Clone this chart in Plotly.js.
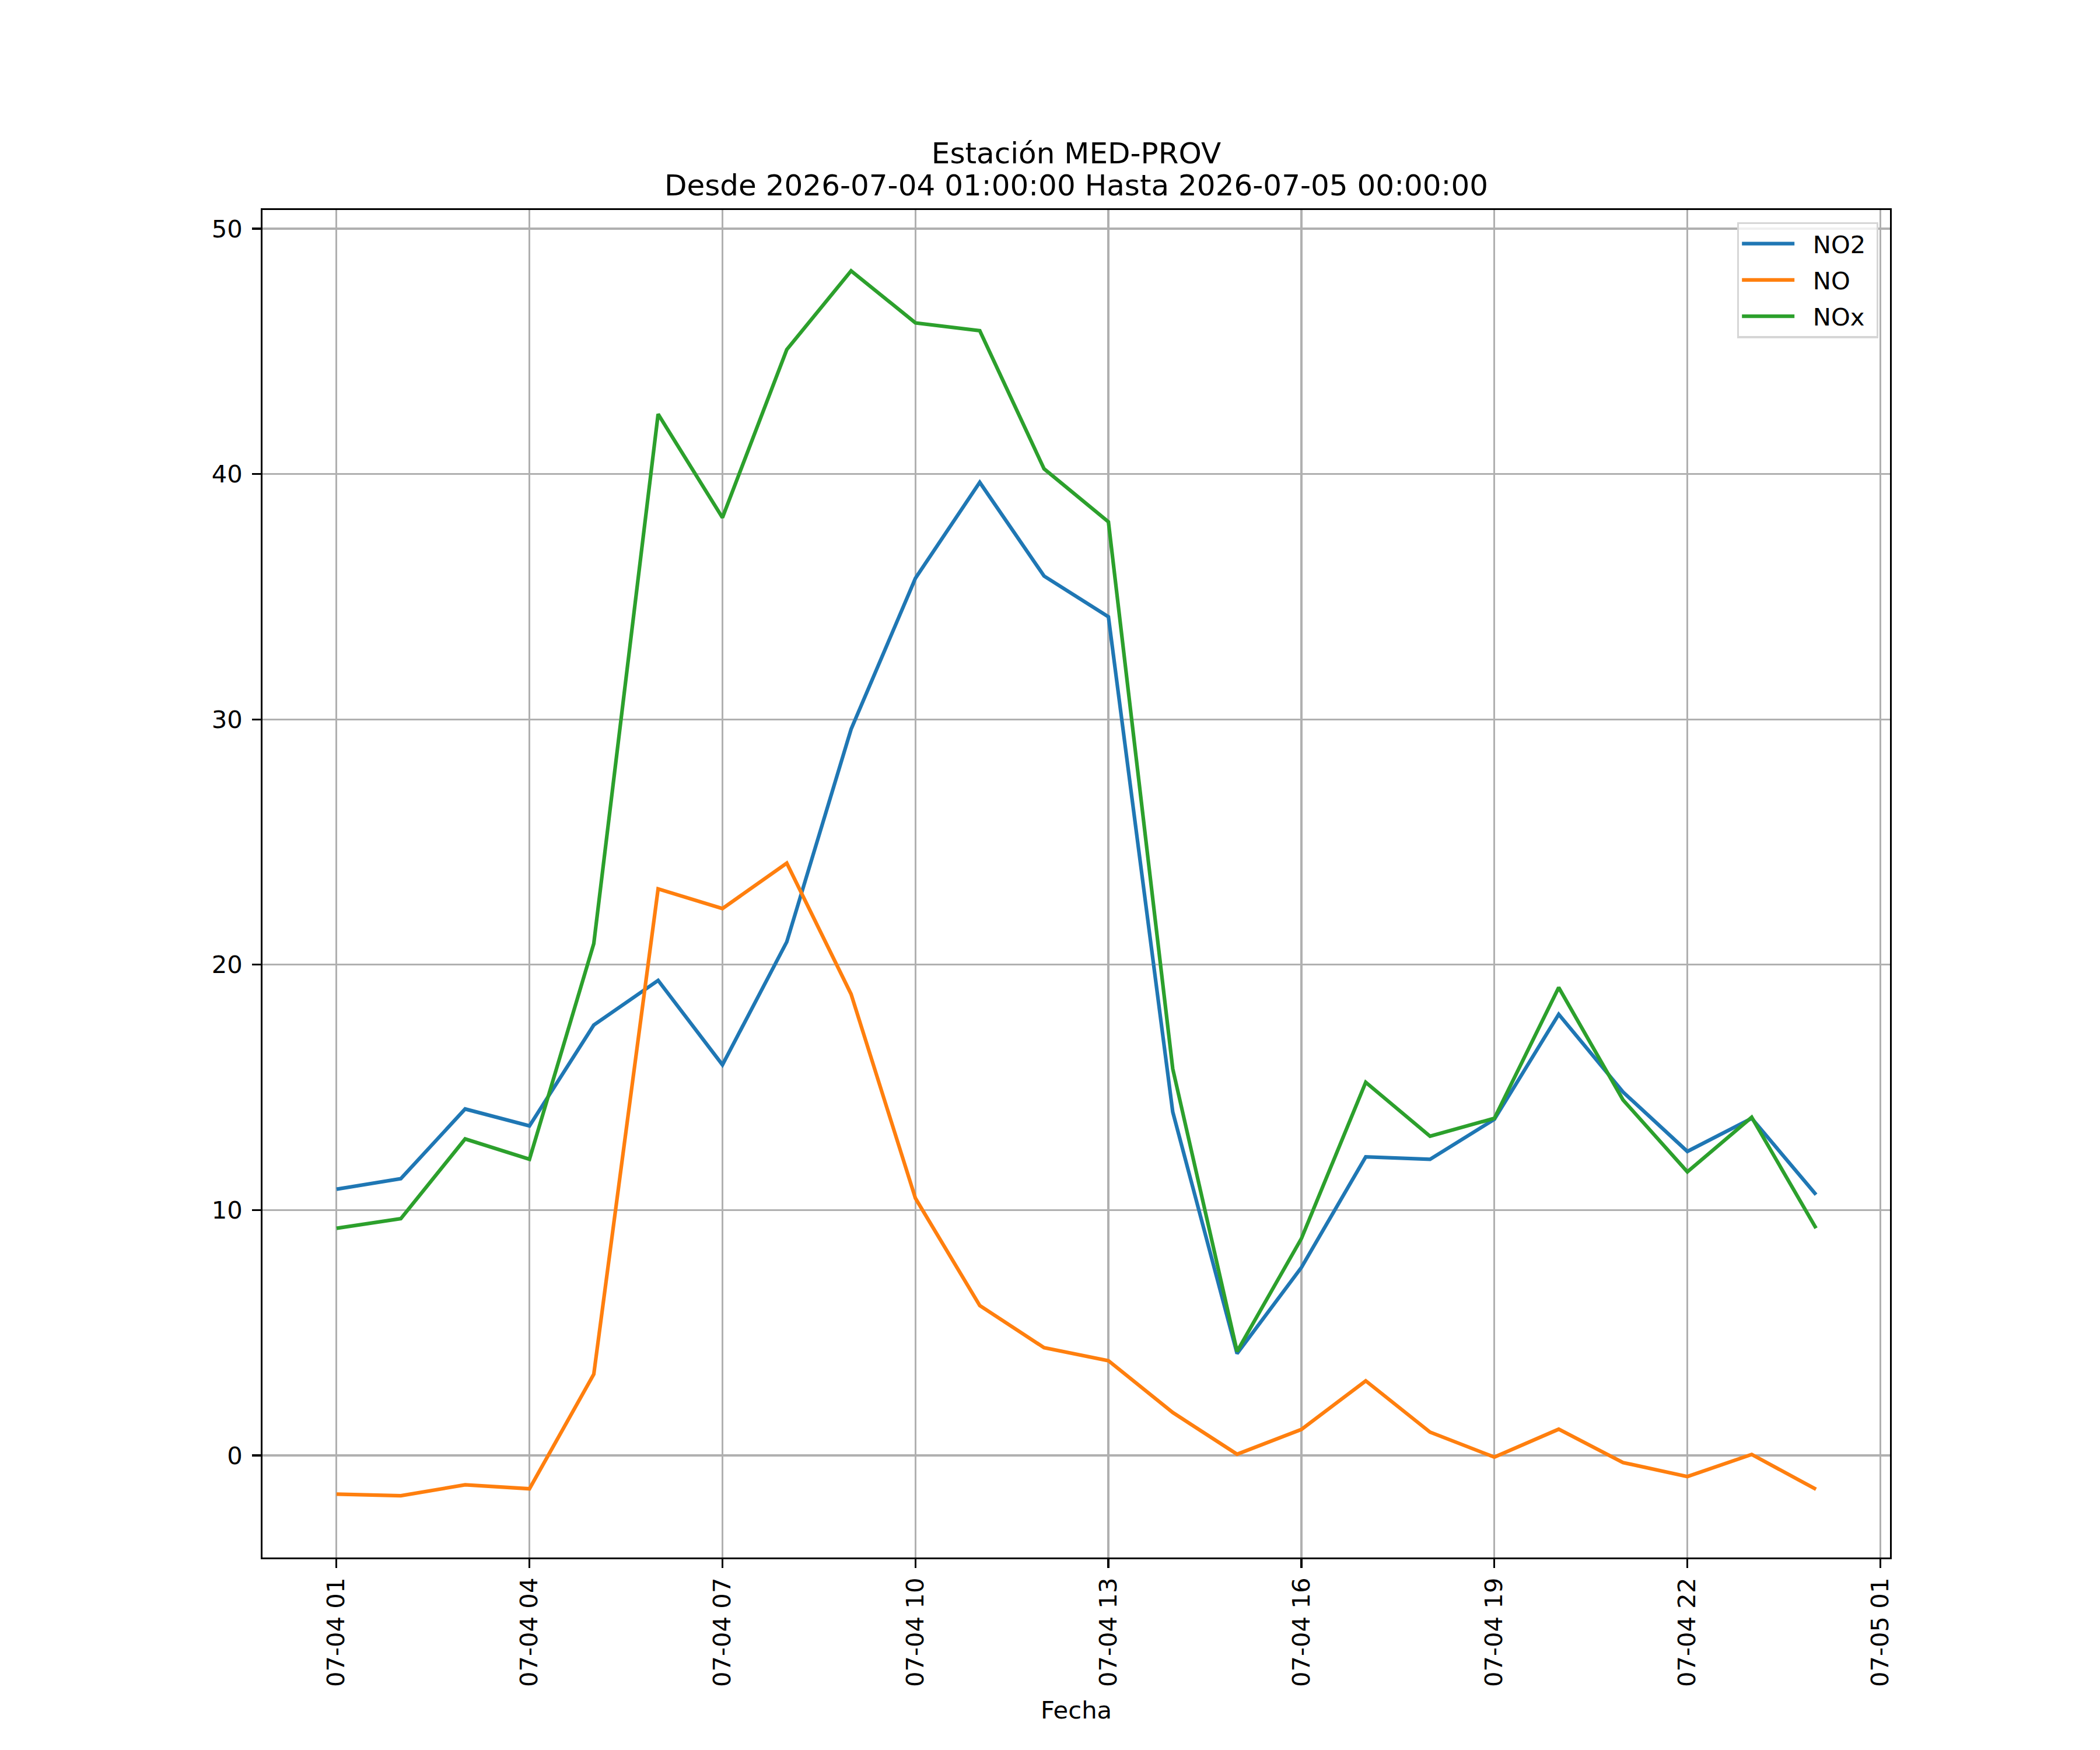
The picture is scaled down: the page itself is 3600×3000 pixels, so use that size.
<!DOCTYPE html>
<html>
<head>
<meta charset="utf-8">
<script src="https://cdn.plot.ly/plotly-3.0.1.min.js"></script>
<style>html,body{margin:0;padding:0;background:#fff;}</style>
</head>
<body>
<div id="graph" style="width:3600px;height:3000px;"></div>
<script>
// Hourly readings, station MED-PROV
const times = ["2026-07-04 01:00", "2026-07-04 02:00", "2026-07-04 03:00", "2026-07-04 04:00",
    "2026-07-04 05:00", "2026-07-04 06:00", "2026-07-04 07:00", "2026-07-04 08:00",
    "2026-07-04 09:00", "2026-07-04 10:00", "2026-07-04 11:00", "2026-07-04 12:00",
    "2026-07-04 13:00", "2026-07-04 14:00", "2026-07-04 15:00", "2026-07-04 16:00",
    "2026-07-04 17:00", "2026-07-04 18:00", "2026-07-04 19:00", "2026-07-04 20:00",
    "2026-07-04 21:00", "2026-07-04 22:00", "2026-07-04 23:00", "2026-07-05 00:00"];
const no2 = [10.85, 11.28, 14.12, 13.43, 17.54, 19.36, 15.92, 20.93, 29.60, 35.75, 39.66, 35.84,
    34.18, 14.0, 4.15, 7.66, 12.17, 12.07, 13.70, 17.98, 14.81, 12.39, 13.74, 10.63];
const no = [-1.58, -1.64, -1.20, -1.36, 3.31, 23.09, 22.29, 24.14, 18.80, 10.48, 6.11, 4.39,
    3.86, 1.75, 0.05, 1.06, 3.04, 0.95, -0.07, 1.07, -0.29, -0.86, 0.04, -1.38];
const nox = [9.26, 9.65, 12.90, 12.07, 20.86, 42.44, 38.22, 45.07, 48.28, 46.16, 45.84, 40.21,
    38.05, 15.76, 4.24, 8.84, 15.21, 13.01, 13.74, 19.07, 14.49, 11.56, 13.78, 9.26];
const series_names = ["NO2", "NO", "NOx"];
const series_colors = ["#1f77b4", "#ff7f0e", "#2ca02c"];
const title_lines = ["Estación MED-PROV", "Desde 2026-07-04 01:00:00 Hasta 2026-07-05 00:00:00"];

const font = "DejaVu Sans";
const axis_common = {showline: true, linecolor: "#000", linewidth: 3.3, mirror: true,
    ticks: "outside", ticklen: 14.6, tickwidth: 3.3, tickcolor: "#000",
    showgrid: true, gridcolor: "#b0b0b0", gridwidth: 3.3, zeroline: false,
    tickfont: {family: font, size: 41.7, color: "#000"}, automargin: false};

// nbsp around names gives matplotlib's gap between legend line, text and frame
const graph_traces = [no2, no, nox].map((y, i) => ({x: times, y: y,
    name: "\u00a0\u00a0" + series_names[i] + "\u00a0",
    legendgroup: series_names[i], type: "scatter", mode: "lines",
    line: {color: series_colors[i], width: 6.25}}));

const graph_layout = {width: 3600, height: 3000, paper_bgcolor: "#fff", plot_bgcolor: "#fff",
    margin: {l: 450, r: 360, t: 360, b: 330, pad: 0},
    font: {family: font, color: "#000"},
    title: {text: title_lines[0], x: 0.5, xref: "paper", xanchor: "center",
        y: 1 - 262 / 3000, yref: "container", yanchor: "middle",
        font: {family: font, size: 50, color: "#000"}},
    annotations: [{text: title_lines[1], xref: "paper", yref: "paper", x: 0.5, y: (2670 - 318) / 2310,
        xanchor: "center", yanchor: "middle", showarrow: false,
        font: {family: font, size: 50, color: "#000"}}],
    xaxis: Object.assign({}, axis_common, {type: "date",
        range: ["2026-07-03 23:51", "2026-07-05 01:09"],
        tick0: "2026-07-04 01:00", dtick: 3 * 3600000, tickformat: "%m-%d %H", tickangle: -90,
        ticklabelstandoff: 0,
        title: {text: "Fecha", standoff: 26, font: {family: font, size: 41.7, color: "#000"}}}),
    yaxis: Object.assign({}, axis_common, {range: [-4.16, 50.76], tick0: 0, dtick: 10,
        ticklabelstandoff: 8}),
    legend: {x: 0.9928, xanchor: "right", y: 0.991, yanchor: "top", traceorder: "grouped",
        tracegroupgap: 5, bgcolor: "rgba(255,255,255,0.8)", bordercolor: "#d6d6d6", borderwidth: 3.3,
        itemwidth: 90, font: {family: font, size: 41.7, color: "#000"}},
    showlegend: true};

const graph_config = {responsive: false, displayModeBar: false, staticPlot: true};
Plotly.newPlot("graph", graph_traces, graph_layout, graph_config);
</script>
</body>
</html>
